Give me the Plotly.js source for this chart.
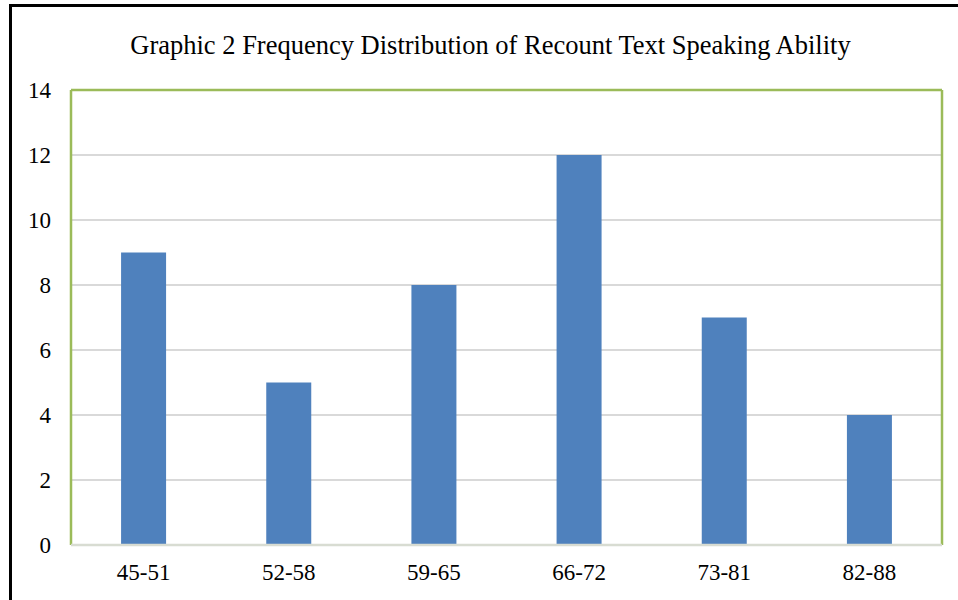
<!DOCTYPE html>
<html>
<head>
<meta charset="utf-8">
<script src="https://cdn.plot.ly/plotly-3.0.1.min.js"></script>
<style>
html,body{margin:0;padding:0;background:#fff;overflow:hidden;}
#chart{width:958px;height:600px;position:absolute;left:0;top:0;}
#frame{position:absolute;left:9px;top:4px;width:1000px;height:700px;border-left:3px solid #000;border-top:3px solid #000;pointer-events:none;}
</style>
</head>
<body>
<div id="chart"></div>
<div id="frame"></div>
<script>
const categories = ["45-51", "52-58", "59-65", "66-72", "73-81", "82-88"];
const frequencies = [9, 5, 8, 12, 7, 4];
const yTicks = [0, 2, 4, 6, 8, 10, 12, 14];

const trace = {
  type: 'bar',
  x: categories,
  y: frequencies,
  marker: {color: '#4f81bd', line: {width: 0}},
  width: 0.31,
  hoverinfo: 'none'
};

const serif = 'Liberation Serif, Times New Roman, serif';
const layout = {
  width: 958,
  height: 600,
  margin: {l: 71, r: 16, t: 90, b: 55},
  paper_bgcolor: '#ffffff',
  plot_bgcolor: '#ffffff',
  showlegend: false,
  title: {
    text: 'Graphic 2 Frequency Distribution of Recount Text Speaking Ability',
    font: {family: serif, size: 26.5, color: '#000'},
    x: 0.512, xanchor: 'center',
    y: 0.926, yanchor: 'middle'
  },
  xaxis: {
    type: 'category',
    showgrid: false,
    zeroline: false,
    showline: false,
    ticks: '',
    tickfont: {family: serif, size: 23, color: '#000'},
    ticklabelstandoff: 11
  },
  yaxis: {
    range: [0, 14],
    tickvals: yTicks,
    showgrid: true,
    gridcolor: '#d9d9d9',
    gridwidth: 1.5,
    zeroline: false,
    showline: false,
    ticks: '',
    tickfont: {family: serif, size: 23, color: '#000'},
    ticklabelstandoff: 19
  },
  shapes: [
    {type: 'line', xref: 'paper', yref: 'paper', x0: 0, x1: 0, y0: 0, y1: 1, line: {color: '#9bbb59', width: 2.5}},
    {type: 'line', xref: 'paper', yref: 'paper', x0: 0, x1: 1, y0: 1, y1: 1, line: {color: '#9bbb59', width: 2.5}},
    {type: 'line', xref: 'paper', yref: 'paper', x0: 1, x1: 1, y0: 0, y1: 1, line: {color: '#9bbb59', width: 2.5}},
    {type: 'line', xref: 'paper', yref: 'paper', x0: 0, x1: 1, y0: 0, y1: 0, line: {color: '#d8dcd2', width: 2.5}}
  ]
};

Plotly.newPlot('chart', [trace], layout, {staticPlot: true, displayModeBar: false});
</script>
</body>
</html>
